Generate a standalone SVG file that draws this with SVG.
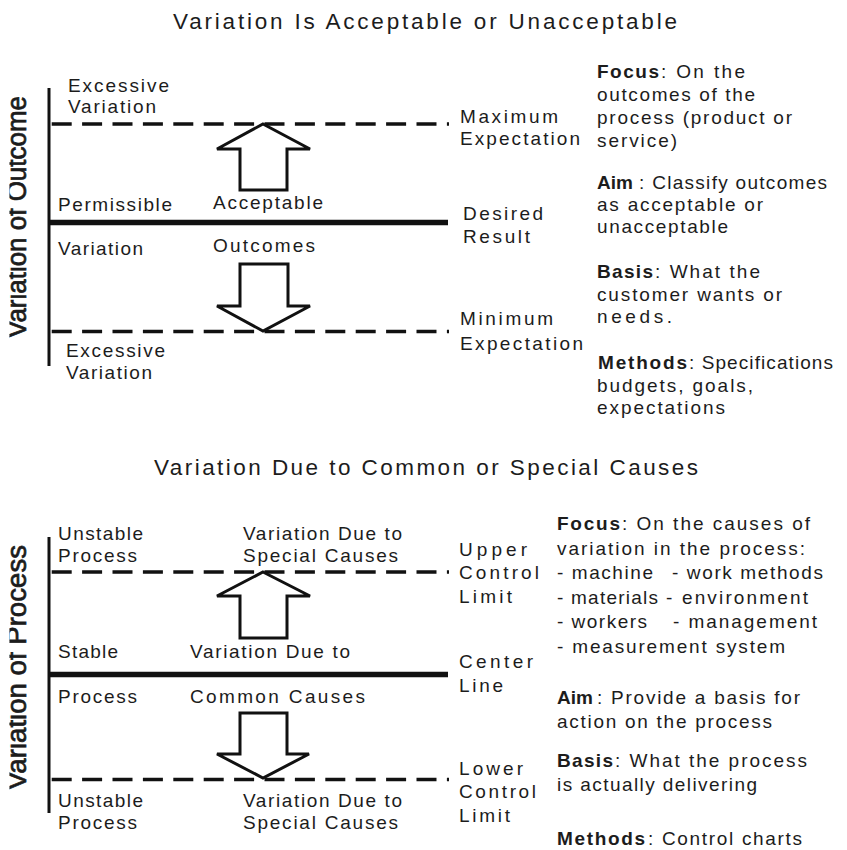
<svg xmlns="http://www.w3.org/2000/svg" width="847" height="850" viewBox="0 0 847 850">
  <style>
    text { font-family: "Liberation Sans", Arial, Helvetica, sans-serif; fill: #1c1c1c; font-size: 19px; }
    .ttl { font-size: 22.5px; }
    .b { font-weight: bold; }
    .vlab { font-size: 27px; stroke: #1c1c1c; stroke-width: 0.7px; }
    .axis { stroke: #111; stroke-width: 3; fill: none; }
    .limit { stroke: #111; stroke-width: 3.5; stroke-dasharray: 20 10.4; fill: none; }
    .center { stroke: #111; stroke-width: 5.5; fill: none; }
    .arrow { fill: #fff; stroke: #111; stroke-width: 3; stroke-linejoin: miter; }
  </style>
  <defs>
    <clipPath id="leftEdge">
      <rect x="9.5" y="0" width="60" height="850"/>
    </clipPath>
  </defs>
  <rect width="847" height="850" fill="#fff"/>

  <!-- ===== Upper panel: acceptable / unacceptable outcomes ===== -->
  <g id="title-outcome">
    <text class="ttl" x="173" y="29" textLength="504" lengthAdjust="spacing">Variation Is Acceptable or Unacceptable</text>
  </g>
  <g id="axis-outcome">
    <line class="axis" x1="49" y1="88" x2="49" y2="366"/>
    <g clip-path="url(#leftEdge)">
      <text class="vlab" transform="translate(26,338) rotate(-90)" textLength="242" lengthAdjust="spacingAndGlyphs">Variation of Outcome</text>
    </g>
  </g>
  <g id="limits-outcome">
    <line class="limit" x1="51.7" y1="124" x2="449" y2="124"/>
    <line class="center" x1="50" y1="222.5" x2="448" y2="222.5"/>
    <line class="limit" x1="51.7" y1="331.5" x2="449" y2="331.5"/>
  </g>
  <g id="zone-outcome-upper">
    <text x="68" y="92" textLength="101" lengthAdjust="spacing">Excessive</text>
    <text x="68" y="113" textLength="88" lengthAdjust="spacing">Variation</text>
  </g>
  <g id="zone-outcome-permissible">
    <text x="58" y="211" textLength="114" lengthAdjust="spacing">Permissible</text>
    <text x="58" y="255" textLength="85" lengthAdjust="spacing">Variation</text>
  </g>
  <g id="zone-outcome-acceptable">
    <text x="213" y="209" textLength="110" lengthAdjust="spacing">Acceptable</text>
    <text x="213" y="252" textLength="102" lengthAdjust="spacing">Outcomes</text>
  </g>
  <g id="zone-outcome-lower">
    <text x="66" y="357" textLength="99" lengthAdjust="spacing">Excessive</text>
    <text x="66" y="379" textLength="86" lengthAdjust="spacing">Variation</text>
  </g>
  <g id="label-maximum">
    <text x="460" y="123" textLength="98" lengthAdjust="spacing">Maximum</text>
    <text x="460" y="145" textLength="120" lengthAdjust="spacing">Expectation</text>
  </g>
  <g id="label-desired">
    <text x="463" y="220" textLength="80" lengthAdjust="spacing">Desired</text>
    <text x="463" y="243" textLength="67" lengthAdjust="spacing">Result</text>
  </g>
  <g id="label-minimum">
    <text x="460" y="325" textLength="93" lengthAdjust="spacing">Minimum</text>
    <text x="460" y="350" textLength="123" lengthAdjust="spacing">Expectation</text>
  </g>
  <g id="notes-outcome">
    <text class="b" x="597" y="78" textLength="62" lengthAdjust="spacing">Focus</text>
    <text x="661" y="78" textLength="84" lengthAdjust="spacing">: On the</text>
    <text x="597" y="101" textLength="158" lengthAdjust="spacing">outcomes of the</text>
    <text x="597" y="124" textLength="195" lengthAdjust="spacing">process (product or</text>
    <text x="597" y="147" textLength="80" lengthAdjust="spacing">service)</text>
    <text class="b" x="597" y="189" textLength="36" lengthAdjust="spacing">Aim</text>
    <text x="639" y="189" textLength="188" lengthAdjust="spacing">: Classify outcomes</text>
    <text x="597" y="211" textLength="166" lengthAdjust="spacing">as acceptable or</text>
    <text x="597" y="233" textLength="131" lengthAdjust="spacing">unacceptable</text>
    <text class="b" x="597" y="278" textLength="56" lengthAdjust="spacing">Basis</text>
    <text x="655" y="278" textLength="105" lengthAdjust="spacing">: What the</text>
    <text x="597" y="301" textLength="185" lengthAdjust="spacing">customer wants or</text>
    <text x="597" y="323" textLength="75" lengthAdjust="spacing">needs.</text>
    <text class="b" x="598" y="369" textLength="89" lengthAdjust="spacing">Methods</text>
    <text x="689" y="369" textLength="144" lengthAdjust="spacing">: Specifications</text>
    <text x="597" y="392" textLength="156" lengthAdjust="spacing">budgets, goals,</text>
    <text x="597" y="414" textLength="128" lengthAdjust="spacing">expectations</text>
  </g>

  <!-- ===== Lower panel: common / special causes ===== -->
  <g id="title-process">
    <text class="ttl" x="154" y="475" textLength="544" lengthAdjust="spacing">Variation Due to Common or Special Causes</text>
  </g>
  <g id="axis-process">
    <line class="axis" x1="49" y1="537" x2="49" y2="813"/>
    <g clip-path="url(#leftEdge)">
      <text class="vlab" transform="translate(26,790) rotate(-90)" textLength="245" lengthAdjust="spacingAndGlyphs">Variation of Process</text>
    </g>
  </g>
  <g id="limits-process">
    <line class="limit" x1="51.7" y1="572" x2="449" y2="572"/>
    <line class="center" x1="50" y1="674.5" x2="448" y2="674.5"/>
    <line class="limit" x1="51.7" y1="779.5" x2="449" y2="779.5"/>
  </g>
  <g id="zone-process-upper">
    <text x="58" y="540" textLength="85" lengthAdjust="spacing">Unstable</text>
    <text x="58" y="562" textLength="79" lengthAdjust="spacing">Process</text>
    <text x="243" y="540" textLength="159" lengthAdjust="spacing">Variation Due to</text>
    <text x="243" y="562" textLength="155" lengthAdjust="spacing">Special Causes</text>
  </g>
  <g id="zone-process-stable">
    <text x="58" y="658" textLength="60" lengthAdjust="spacing">Stable</text>
    <text x="58" y="703" textLength="79" lengthAdjust="spacing">Process</text>
  </g>
  <g id="zone-process-common">
    <text x="190" y="658" textLength="160" lengthAdjust="spacing">Variation Due to</text>
    <text x="190" y="703" textLength="175" lengthAdjust="spacing">Common Causes</text>
  </g>
  <g id="zone-process-lower">
    <text x="58" y="807" textLength="85" lengthAdjust="spacing">Unstable</text>
    <text x="58" y="829" textLength="79" lengthAdjust="spacing">Process</text>
    <text x="243" y="807" textLength="159" lengthAdjust="spacing">Variation Due to</text>
    <text x="243" y="829" textLength="155" lengthAdjust="spacing">Special Causes</text>
  </g>
  <g id="label-ucl">
    <text x="459" y="556" textLength="68" lengthAdjust="spacing">Upper</text>
    <text x="459" y="579" textLength="80" lengthAdjust="spacing">Control</text>
    <text x="459" y="603" textLength="53" lengthAdjust="spacing">Limit</text>
  </g>
  <g id="label-center">
    <text x="459" y="668" textLength="74" lengthAdjust="spacing">Center</text>
    <text x="459" y="692" textLength="44" lengthAdjust="spacing">Line</text>
  </g>
  <g id="label-lcl">
    <text x="459" y="775" textLength="64" lengthAdjust="spacing">Lower</text>
    <text x="459" y="798" textLength="77" lengthAdjust="spacing">Control</text>
    <text x="459" y="822" textLength="51" lengthAdjust="spacing">Limit</text>
  </g>
  <g id="notes-process">
    <text class="b" x="557" y="530" textLength="63" lengthAdjust="spacing">Focus</text>
    <text x="622" y="530" textLength="188" lengthAdjust="spacing">: On the causes of</text>
    <text x="557" y="555" textLength="248" lengthAdjust="spacing">variation in the process:</text>
    <text x="557" y="579" textLength="96" lengthAdjust="spacing">- machine</text>
    <text x="672" y="579" textLength="151" lengthAdjust="spacing">- work methods</text>
    <text x="557" y="604" textLength="101" lengthAdjust="spacing">- materials</text>
    <text x="666" y="604" textLength="142" lengthAdjust="spacing">- environment</text>
    <text x="557" y="628" textLength="90" lengthAdjust="spacing">- workers</text>
    <text x="673" y="628" textLength="144" lengthAdjust="spacing">- management</text>
    <text x="557" y="653" textLength="228" lengthAdjust="spacing">- measurement system</text>
    <text class="b" x="557" y="704" textLength="36" lengthAdjust="spacing">Aim</text>
    <text x="597" y="704" textLength="203" lengthAdjust="spacing">: Provide a basis for</text>
    <text x="557" y="728" textLength="215" lengthAdjust="spacing">action on the process</text>
    <text class="b" x="557" y="767" textLength="56" lengthAdjust="spacing">Basis</text>
    <text x="615" y="767" textLength="192" lengthAdjust="spacing">: What the process</text>
    <text x="557" y="791" textLength="200" lengthAdjust="spacing">is actually delivering</text>
    <text class="b" x="557" y="845" textLength="88" lengthAdjust="spacing">Methods</text>
    <text x="648" y="845" textLength="154" lengthAdjust="spacing">: Control charts</text>
  </g>

  <!-- block arrows pointing from the centre line toward each limit -->
  <g id="connectors">
    <polygon class="arrow" points="263,124 310,149 287,149 287,190 240,190 240,149 217,149"/>
    <polygon class="arrow" points="240,264 288,264 288,306 310,306 263,331 217,306 240,306"/>
    <polygon class="arrow" points="263,572 310,596 287,596 287,638 240,638 240,596 217,596"/>
    <polygon class="arrow" points="240,713 287,713 287,754 309,754 263,778 217,754 240,754"/>
  </g>
</svg>
